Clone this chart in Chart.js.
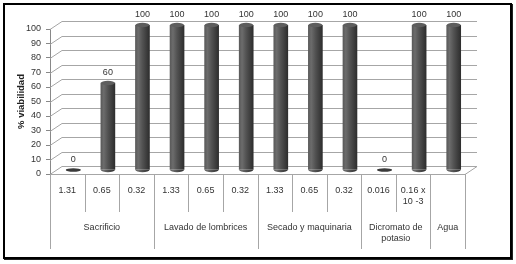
<!DOCTYPE html>
<html>
<head>
<meta charset="utf-8">
<script src="https://cdn.jsdelivr.net/npm/chart.js@4"></script>
<style>
  body { margin: 0; background: #fff; }
  #wrap { position: relative; width: 516px; height: 264px; }
  #marco { position: absolute; left: 3px; top: 3px; width: 505px; height: 252px;
           border: 2px solid #000; box-shadow: 1px 1px 0 #222; pointer-events: none; }
</style>
</head>
<body>
<div id="wrap">
  <canvas id="grafico"></canvas>
  <div id="marco"></div>
</div>
<script>
// datos
const subEtiquetas = ["1.31", "0.65", "0.32", "1.33", "0.65", "0.32", "1.33", "0.65", "0.32", "0.016", ["0.16 x", "10 -3"], ""];
const grupos = ["Sacrificio", "Lavado de lombrices", "Secado y maquinaria", ["Dicromato de", "potasio"], "Agua"];
const tamGrupos = [3, 3, 3, 2, 1];
const viabilidad = [0, 60, 100, 100, 100, 100, 100, 100, 100, 0, 100, 100];
const ticksY = [0, 10, 20, 30, 40, 50, 60, 70, 80, 90, 100];

const FUENTE = "'Liberation Sans', Arial, sans-serif";
const PROF_X = 12, PROF_Y = 8;     // pared del fondo
const DESP_X = 6, DESP_Y = -4;     // barras a media profundidad
const ANCHO_BARRA = 14;

function gradienteBarra(ctx, xc) {
  if (!isFinite(xc)) return "#505050";
  const g = ctx.createLinearGradient(xc - ANCHO_BARRA / 2, 0, xc + ANCHO_BARRA / 2, 0);
  g.addColorStop(0, "#5a5a5a");
  g.addColorStop(0.2, "#6c6c6c");
  g.addColorStop(0.5, "#525252");
  g.addColorStop(1, "#2e2e2e");
  return g;
}

// ============================
// Pared 3D, cilindros, etiquetas y tabla de categorías
// ============================
const plugin3D = {
  id: "plugin3D",
  beforeDatasetsDraw(chart) {
    const { ctx, chartArea: a, scales: { y } } = chart;
    ctx.save();
    ctx.strokeStyle = "#a6a6a6";
    ctx.lineWidth = 1;
    ticksY.forEach(v => {
      const py = Math.round(y.getPixelForValue(v)) + 0.5;
      ctx.beginPath();
      ctx.moveTo(a.left, py);
      ctx.lineTo(a.left + PROF_X, py - PROF_Y);
      ctx.lineTo(a.right + PROF_X, py - PROF_Y);
      ctx.stroke();
    });
    // piso
    const p0 = Math.round(y.getPixelForValue(0)) + 0.5;
    ctx.beginPath();
    ctx.moveTo(a.left, p0);
    ctx.lineTo(a.right, p0);
    ctx.lineTo(a.right + PROF_X, p0 - PROF_Y);
    ctx.stroke();
    ctx.restore();

    ctx.save();
    ctx.translate(DESP_X, DESP_Y);
  },
  afterDatasetsDraw(chart) {
    const { ctx, scales: { x, y } } = chart;
    const meta = chart.getDatasetMeta(0);
    const base = y.getPixelForValue(0);
    meta.data.forEach((bar, i) => {
      const xc = bar.x;
      const v = viabilidad[i];
      if (v === 0) {
        ctx.fillStyle = "#3a3a3a";
        ctx.beginPath();
        ctx.ellipse(xc, base, 7.5, 1.8, 0, 0, Math.PI * 2);
        ctx.fill();
        return;
      }
      ctx.fillStyle = gradienteBarra(ctx, xc);
      ctx.beginPath();
      ctx.ellipse(xc, base, ANCHO_BARRA / 2, 2.2, 0, 0, Math.PI);
      ctx.fill();
      ctx.fillStyle = "#5e5e5e";
      ctx.beginPath();
      ctx.ellipse(xc, bar.y, ANCHO_BARRA / 2, 2.2, 0, 0, Math.PI * 2);
      ctx.fill();
    });
    // etiquetas de datos
    ctx.fillStyle = "#333";
    ctx.font = "9px " + FUENTE;
    ctx.textAlign = "center";
    ctx.textBaseline = "middle";
    meta.data.forEach((bar, i) => {
      ctx.fillText(String(viabilidad[i]), bar.x, bar.y - 10);
    });
    ctx.restore();

    // tabla de categorías
    const a = chart.chartArea;
    const paso = (a.right - a.left) / viabilidad.length;
    ctx.save();
    ctx.strokeStyle = "#a6a6a6";
    ctx.lineWidth = 1;
    const limites = [0];
    tamGrupos.reduce((acc, n) => { limites.push(acc + n); return acc + n; }, 0);
    for (let i = 0; i <= viabilidad.length; i++) {
      const px = Math.round(a.left + i * paso) + 0.5;
      const largo = limites.includes(i) ? 75 : 38;
      ctx.beginPath();
      ctx.moveTo(px, a.bottom);
      ctx.lineTo(px, a.bottom + largo);
      ctx.stroke();
    }
    ctx.fillStyle = "#333";
    ctx.font = "9px " + FUENTE;
    ctx.textAlign = "center";
    ctx.textBaseline = "middle";
    subEtiquetas.forEach((et, i) => {
      const xc = x.getPixelForValue(i);
      [].concat(et).forEach((l, k) => ctx.fillText(l, xc, a.bottom + 17 + k * 11));
    });
    grupos.forEach((g, j) => {
      const x0 = a.left + limites[j] * paso, x1 = a.left + limites[j + 1] * paso;
      [].concat(g).forEach((l, k) => ctx.fillText(l, (x0 + x1) / 2, a.bottom + 54 + k * 11));
    });
    ctx.restore();
  }
};

new Chart(document.getElementById("grafico"), {
  type: "bar",
  data: {
    labels: subEtiquetas,
    datasets: [{
      data: viabilidad,
      barThickness: ANCHO_BARRA,
      borderWidth: 0,
      backgroundColor: c => {
        const sx = c.chart.scales && c.chart.scales.x;
        return gradienteBarra(c.chart.ctx, sx && c.dataIndex !== undefined ? sx.getPixelForValue(c.dataIndex) : NaN);
      }
    }]
  },
  options: {
    responsive: true,
    maintainAspectRatio: false,
    animation: false,
    layout: { padding: { top: 29, right: 51, left: 0, bottom: 0 } },
    plugins: { legend: { display: false }, tooltip: { enabled: false } },
    scales: {
      x: {
        ticks: { display: false },
        grid: { display: false },
        border: { display: false },
        afterFit: s => { s.height = 90; }
      },
      y: {
        min: 0, max: 100,
        afterBuildTicks: s => { s.ticks = ticksY.map(v => ({ value: v })); },
        ticks: { color: "#333", font: { family: FUENTE, size: 9 }, padding: 5 },
        grid: { drawOnChartArea: false, tickLength: 4, color: "#888" },
        border: { display: true, color: "#888" },
        title: { display: true, text: "% viabilidad", color: "#222",
                 font: { family: FUENTE, size: 9.5, weight: "bold" }, padding: { top: 16, bottom: 0 } },
        afterFit: s => { s.width = 50; }
      }
    }
  },
  plugins: [plugin3D]
});
</script>
</body>
</html>
